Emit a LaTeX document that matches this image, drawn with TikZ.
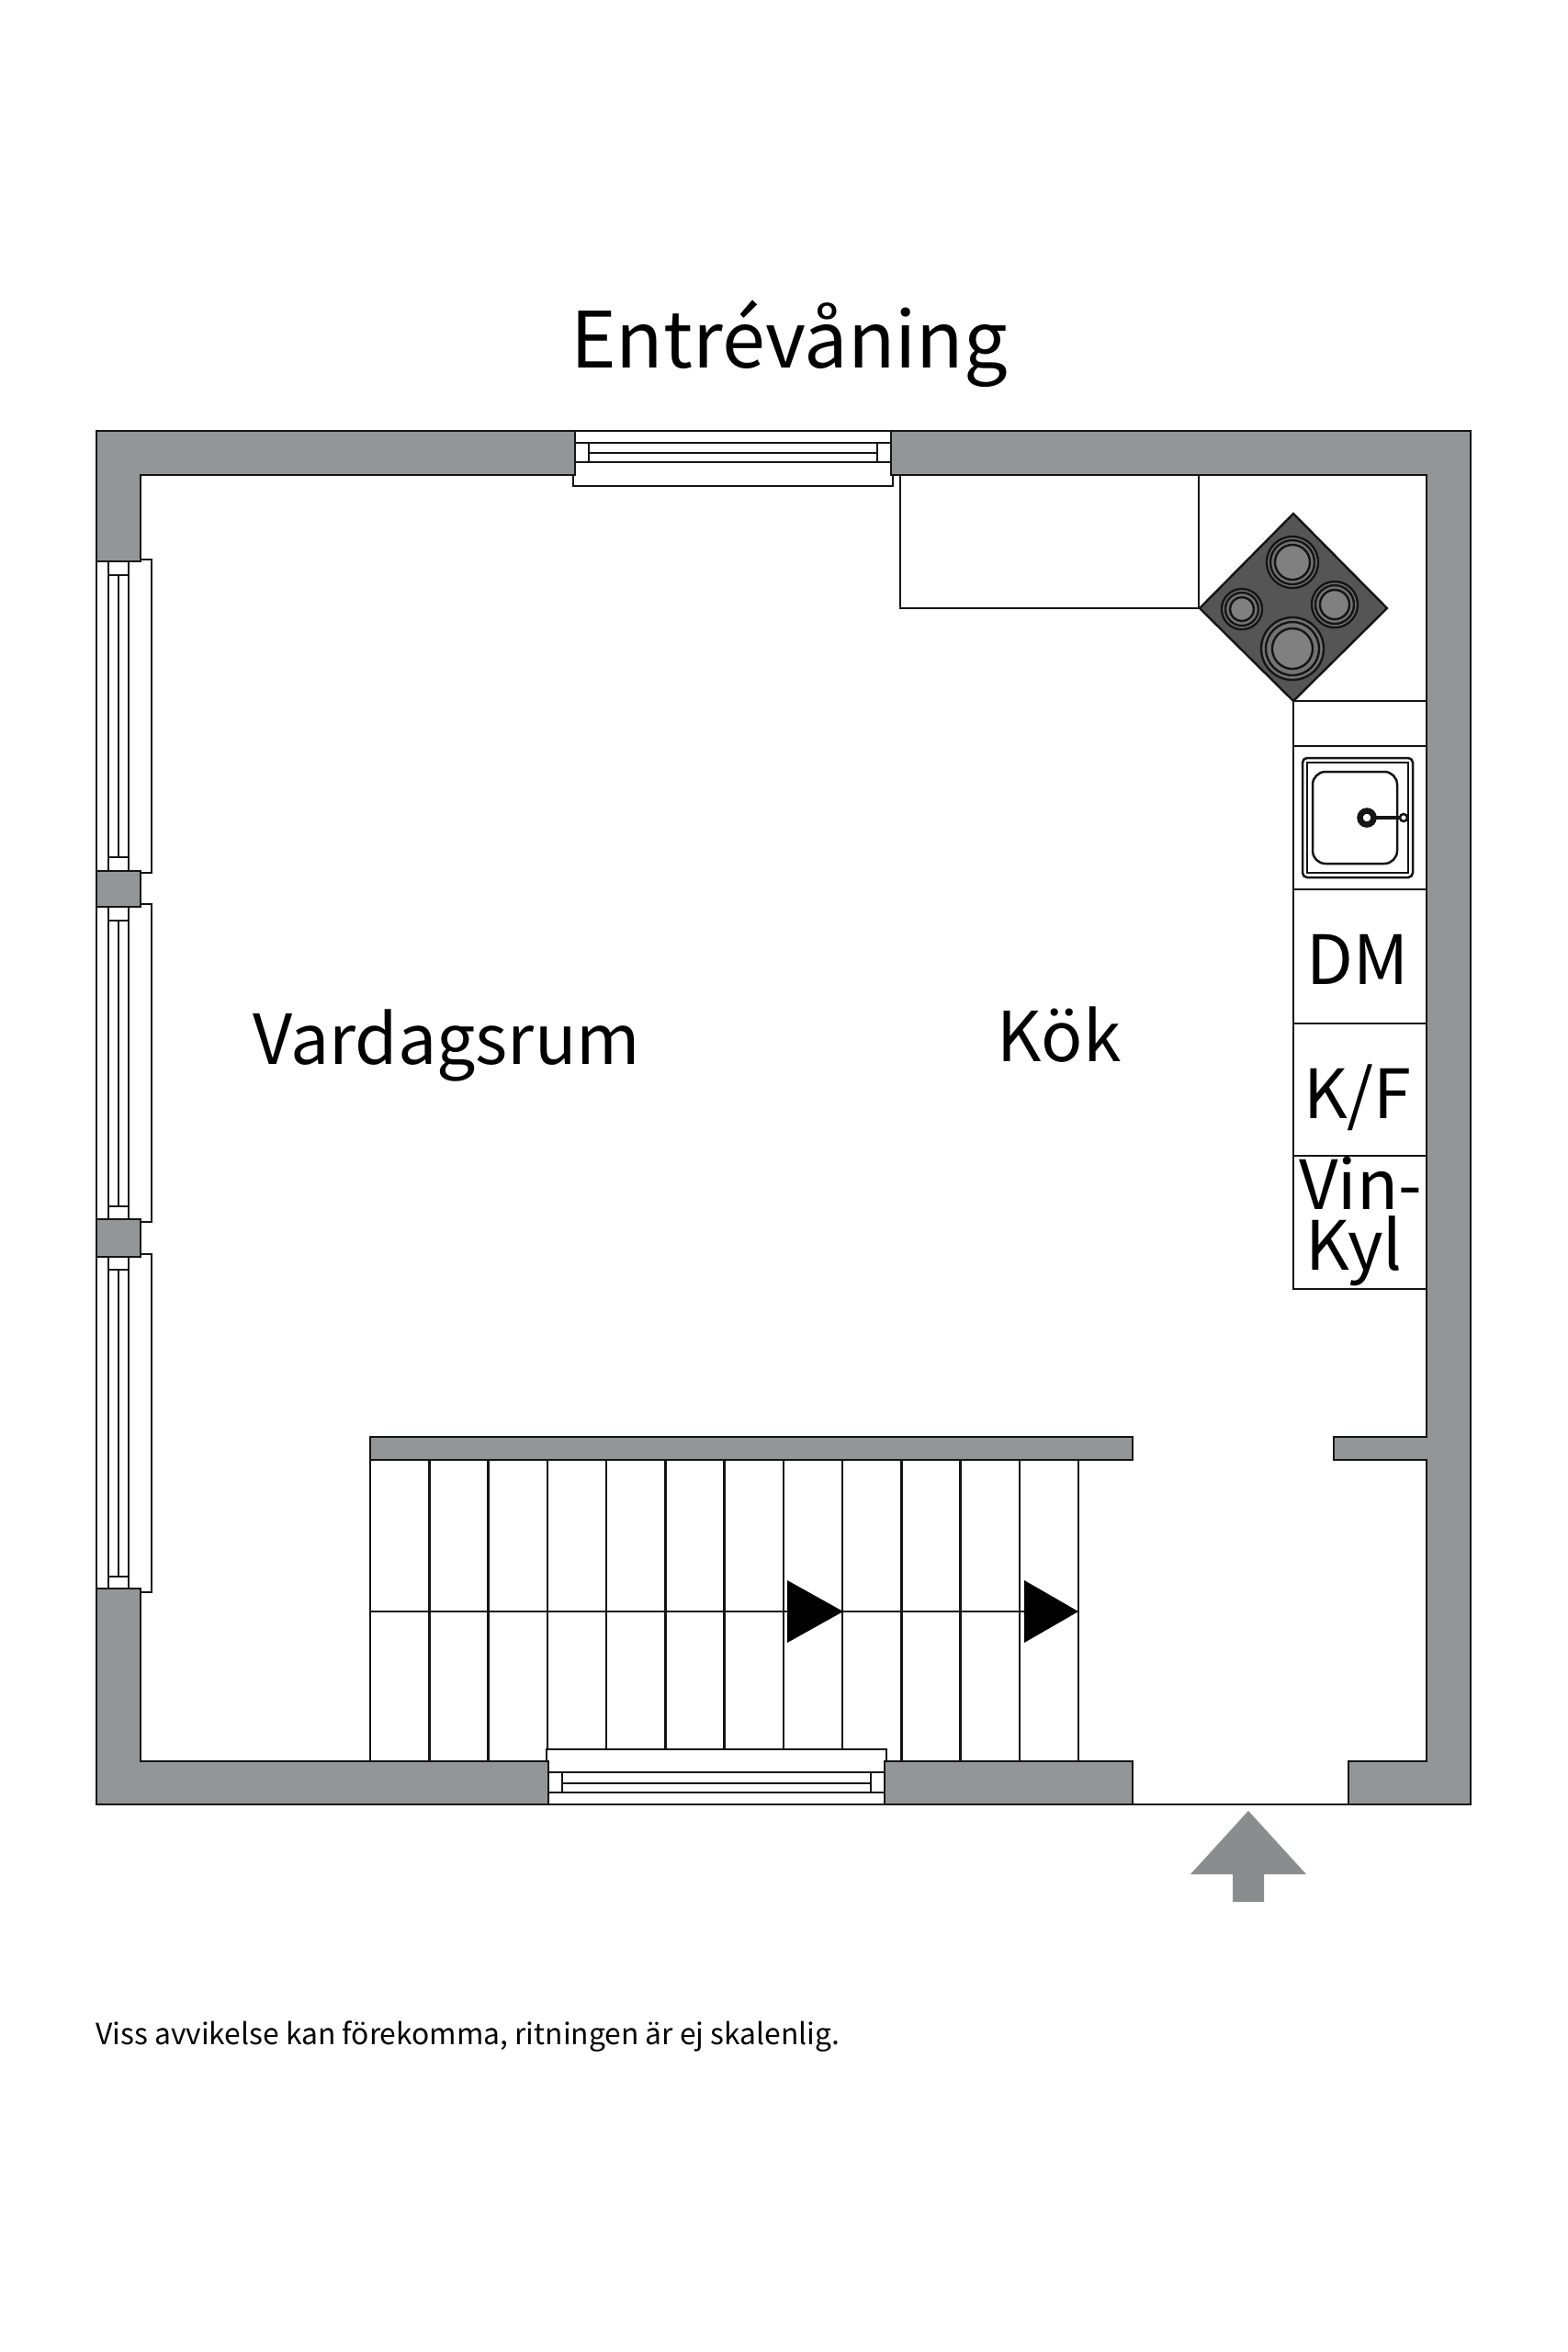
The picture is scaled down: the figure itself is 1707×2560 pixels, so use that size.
\documentclass[tikz,border=0pt]{standalone}
\usepackage{fontspec}
\setmainfont{Noto Sans CJK SC}
\definecolor{wallgray}{HTML}{929696}
\definecolor{arrowgray}{HTML}{8A8D8D}
\definecolor{hobgray}{HTML}{555555}
\definecolor{burngray}{HTML}{808080}
\definecolor{ink}{HTML}{151515}
\newcommand{\fsz}[1]{\fontsize{#1}{#1}\selectfont}
\tikzset{
  wall/.style={fill=wallgray,draw=ink,line width=2.7pt,line join=miter},
  thin line/.style={draw=ink,line width=2.5pt},
  label text/.style={anchor=base,inner sep=0pt,text=black},
  burner/.style={draw=ink,line width=2.4pt,fill=burngray},
  ring/.style={draw=ink,line width=2.4pt},
}
% left window: casing top, wall top, cap top, cap bottom, wall bottom, casing bottom
\newcommand{\leftwin}[6]{
  \draw[thin line] (105,#2) -- (105,#5);
  \draw[thin line] (118,#2) -- (118,#5);
  \draw[thin line] (140,#2) -- (140,#5);
  \draw[thin line] (129,#3) -- (129,#4);
  \draw[thin line] (118,#3) -- (140,#3);
  \draw[thin line] (118,#4) -- (140,#4);
  \draw[thin line] (153,#1) -- (165,#1) -- (165,#6) -- (153,#6);
  \draw[thin line] (105,#2) -- (153,#2);
  \draw[thin line] (105,#5) -- (153,#5);
}
\begin{document}
\begin{tikzpicture}[x=1pt,y=-1pt]
\useasboundingbox (0,0) rectangle (1707,2560);
\fill[white] (0,0) rectangle (1707,2560);

% walls
\draw[wall] (105,469) -- (626,469) -- (626,517) -- (153,517) -- (153,611) -- (105,611) -- cycle;
\draw[wall] (970,469) -- (1601,469) -- (1601,1964) -- (1468,1964) -- (1468,1917) -- (1553,1917) -- (1553,1589) -- (1452,1589) -- (1452,1564) -- (1553,1564) -- (1553,517) -- (970,517) -- cycle;
\draw[wall] (105,948) rectangle (153,987);
\draw[wall] (105,1327) rectangle (153,1368);
\draw[wall] (105,1729) -- (153,1729) -- (153,1917) -- (597,1917) -- (597,1964) -- (105,1964) -- cycle;
\draw[wall] (963,1917) rectangle (1233,1964);
\draw[wall] (403,1564) rectangle (1233,1589);
\draw[thin line] (1233,1964) -- (1468,1964);

% left windows
\leftwin{609}{611}{626}{933}{948}{950}
\leftwin{984}{987}{1002}{1313}{1327}{1330}
\leftwin{1365}{1368}{1382}{1716}{1729}{1733}

% top window
\draw[thin line] (626,469) -- (970,469);
\draw[thin line] (626,482) -- (970,482);
\draw[thin line] (626,503) -- (970,503);
\draw[thin line] (641,493) -- (955,493);
\draw[thin line] (641,482) -- (641,503);
\draw[thin line] (955,482) -- (955,503);
\draw[thin line] (624,517) -- (624,529) -- (972,529) -- (972,517);

% bottom window
\draw[thin line] (597,1964) -- (963,1964);
\draw[thin line] (597,1929) -- (963,1929);
\draw[thin line] (597,1951) -- (963,1951);
\draw[thin line] (612,1941) -- (948,1941);
\draw[thin line] (612,1929) -- (612,1951);
\draw[thin line] (948,1929) -- (948,1951);
\draw[thin line] (595,1917) -- (595,1904) -- (965,1904) -- (965,1917);

% stairs
\foreach \x in {403,467.25,531.5}
  \draw[thin line] (\x,1589) -- (\x,1917);
\foreach \x in {596,660,724.25,788.5,852.75,917}
  \draw[thin line] (\x,1589) -- (\x,1904);
\foreach \x in {981.25,1045.5,1109.75,1174}
  \draw[thin line] (\x,1589) -- (\x,1917);
\draw[thin line] (403,1754) -- (1174,1754);
\fill[black] (857,1720) -- (918,1754) -- (857,1788) -- cycle;
\fill[black] (1115,1720) -- (1174,1754) -- (1115,1788) -- cycle;

% kitchen counters
\draw[thin line] (980,517) -- (980,662) -- (1306,662);
\draw[thin line] (1305,517) -- (1305,662);
\draw[thin line] (1408,763) -- (1553,763);
\draw[thin line] (1408,763) -- (1408,1403) -- (1553,1403);
\draw[thin line] (1408,812) -- (1553,812);
\draw[thin line] (1408,968) -- (1553,968);
\draw[thin line] (1408,1114) -- (1553,1114);
\draw[thin line] (1408,1258) -- (1553,1258);

% hob
\draw[fill=hobgray,draw=ink,line width=2.4pt,line join=miter] (1408,559) -- (1510,662) -- (1408,763) -- (1306,662) -- cycle;
\foreach \cx/\cy/\ra/\rb/\rc in {1407/612/28/24/19, 1453/658/25/21/16, 1352/663/22/18/13, 1407/706/34/29/22}{
  \draw[ring,fill=burngray!70!hobgray] (\cx,\cy) circle[radius=\ra];
  \draw[ring] (\cx,\cy) circle[radius=\rb];
  \draw[burner] (\cx,\cy) circle[radius=\rc];
}

% sink
\draw[thin line,rounded corners=5pt] (1418,825) rectangle (1538,955);
\draw[thin line] (1423,830) rectangle (1533,950);
\draw[thin line,rounded corners=14pt] (1429,840) rectangle (1521,940);
\draw[draw=ink,line width=6.5pt] (1488,890) circle[radius=7.5];
\draw[draw=ink,line width=4pt] (1494,890) -- (1524,890);
\draw[thin line,fill=white] (1528,890) circle[radius=4];

% entrance arrow
\fill[arrowgray] (1359,1971) -- (1422,2040) -- (1376,2040) -- (1376,2070) -- (1342,2070) -- (1342,2040) -- (1296,2040) -- cycle;

% texts
\node[label text,font=\fsz{84.5}] (title) at (859,400) {Entrévåning};
\node[label text,font=\fsz{75}] (vardagsrum) at (486,1158) {Vardagsrum};
\node[label text,font=\fsz{75}] (kok) at (1153,1155) {Kök};
\node[label text,font=\fsz{74}] (dm) at (1478,1071) {DM};
\node[label text,font=\fsz{74}] (kf) at (1478,1217) {K/F};
\node[label text,font=\fsz{74}] (vin) at (1481,1316) {Vin-};
\node[label text,font=\fsz{74}] (kyl) at (1474,1382) {Kyl};
\node[anchor=base west,inner sep=0pt,font=\fsz{31.8}] (note) at (104,2225) {Viss avvikelse kan förekomma, ritningen är ej skalenlig.};
\end{tikzpicture}
\end{document}
